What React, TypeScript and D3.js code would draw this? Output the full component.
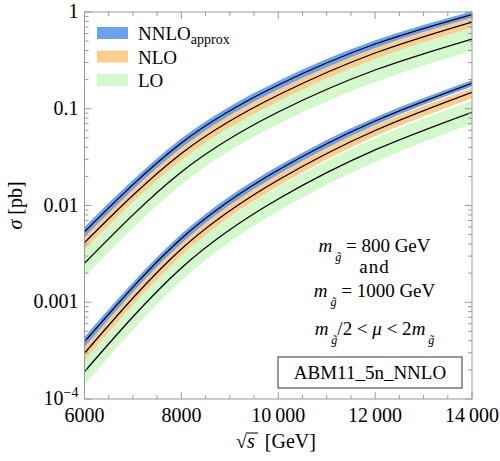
import React from 'react';
import * as d3 from 'd3';

// sqrt(s) sample points [GeV]
const sqrtS = [6000, 8000, 10000, 12000, 14000];

// central cross sections [pb], gluino mass 800 GeV
const nnlo800 = [0.00536, 0.0443, 0.176, 0.467, 0.942];
const nlo800 = [0.00413, 0.0345, 0.1387, 0.377, 0.788];
const lo800 = [0.00253, 0.0222, 0.0925, 0.2515, 0.526];

// central cross sections [pb], gluino mass 1000 GeV
const nnlo1000 = [0.000391, 0.00456, 0.0233, 0.0747, 0.1832];
const nlo1000 = [0.000297, 0.00355, 0.01834, 0.0596, 0.148];
const lo1000 = [0.0001915, 0.00226, 0.01167, 0.0375, 0.0919];

// relative scale uncertainty (m/2 < mu < 2m)
const nnloErr = [0.12, 0.11, 0.1, 0.09, 0.075];
const nloErrUp = [0.17, 0.15, 0.14, 0.13, 0.11];
const nloErrDown = [0.16, 0.15, 0.14, 0.13, 0.13];
const loErrUp = [0.36, 0.35, 0.33, 0.33, 0.31];
const loErrDown = [0.27, 0.26, 0.25, 0.25, 0.24];

const xTicks = [6000, 8000, 10000, 12000, 14000];
const xTickLabels = ['6000', '8000', '10\u2009000', '12\u2009000', '14\u2009000'];
const yTicks = [1e-4, 1e-3, 1e-2, 1e-1, 1];
const yTickLabels = ['', '0.001', '0.01', '0.1', '1'];

const legendItems = [
  { key: 'nnlo', label: 'NNLO', sub: 'approx', color: '#6aa1f2' },
  { key: 'nlo', label: 'NLO', sub: '', color: '#fdcd8e' },
  { key: 'lo', label: 'LO', sub: '', color: '#d3f8cb' },
];

const W = 500;
const H = 461;
const margin = { top: 12, right: 28, bottom: 62, left: 84.5 };
const FONT = '"Liberation Serif", "Times New Roman", "DejaVu Serif", serif';

const App = () => {
  const innerW = W - margin.left - margin.right;
  const innerH = H - margin.top - margin.bottom;

  const x = d3.scaleLinear().domain([6000, 14000]).range([0, innerW]);
  const y = d3.scaleLog().domain([1e-4, 1]).range([innerH, 0]);

  const line = d3
    .line<number>()
    .x((_, i) => x(sqrtS[i]))
    .y((d) => y(d))
    .curve(d3.curveNatural);

  const band = (c: number[], up: number[], down: number[]) =>
    d3
      .area<number>()
      .x((_, i) => x(sqrtS[i]))
      .y0((d, i) => y(d * (1 - down[i])))
      .y1((d, i) => y(d * (1 + up[i])))
      .curve(d3.curveNatural)(c) || '';

  const sets = [
    { nnlo: nnlo800, nlo: nlo800, lo: lo800 },
    { nnlo: nnlo1000, nlo: nlo1000, lo: lo1000 },
  ];

  const xMinor = d3.range(6000, 14001, 500).filter((v) => v % 2000 !== 0);
  const yMinor: number[] = [];
  [1e-4, 1e-3, 1e-2, 1e-1].forEach((dec) => {
    for (let k = 2; k <= 9; k++) yMinor.push(dec * k);
  });

  const frame = '#9a9a9a';
  const majorLen = 7;
  const minorLen = 4;

  const mSub = () => (
    <>
      <tspan fontStyle="italic">m</tspan>
      <tspan fontStyle="italic" fontSize={12} dy={9}>
        {' g\u0303'}
      </tspan>
    </>
  );

  return (
    <svg
      width={W}
      height={H}
      style={{ position: 'absolute', left: 0, top: 0, background: 'white', fontFamily: FONT }}
    >
      <defs>
        <clipPath id="plotClip">
          <rect x={0} y={0} width={innerW} height={innerH} />
        </clipPath>
      </defs>
      <g transform={`translate(${margin.left},${margin.top})`}>
        <g clipPath="url(#plotClip)">
          {sets.map((s, i) => (
            <g key={'b' + i}>
              <path d={band(s.lo, loErrUp, loErrDown)} fill={legendItems[2].color} />
              <path d={band(s.nlo, nloErrUp, nloErrDown)} fill={legendItems[1].color} />
              <path d={band(s.nnlo, nnloErr, nnloErr)} fill={legendItems[0].color} />
            </g>
          ))}
          {sets.map((s, i) => (
            <g key={'l' + i} fill="none" stroke="#000" strokeWidth={1.3}>
              <path d={line(s.nnlo) || ''} />
              <path d={line(s.nlo) || ''} />
              <path d={line(s.lo) || ''} />
            </g>
          ))}
        </g>

        {/* frame */}
        <rect x={0} y={0} width={innerW} height={innerH} fill="none" stroke={frame} strokeWidth={1} />

        {/* x ticks bottom and top */}
        {xTicks.map((t, i) => (
          <g key={'xt' + t}>
            <line x1={x(t)} x2={x(t)} y1={innerH} y2={innerH - majorLen} stroke={frame} />
            <line x1={x(t)} x2={x(t)} y1={0} y2={majorLen} stroke={frame} />
            <text x={x(t)} y={innerH + 23} textAnchor="middle" fontSize={20} fill="#000">
              {xTickLabels[i]}
            </text>
          </g>
        ))}
        {xMinor.map((t) => (
          <g key={'xm' + t}>
            <line x1={x(t)} x2={x(t)} y1={innerH} y2={innerH - minorLen} stroke={frame} />
            <line x1={x(t)} x2={x(t)} y1={0} y2={minorLen} stroke={frame} />
          </g>
        ))}

        {/* y ticks left and right */}
        {yTicks.map((t, i) => (
          <g key={'yt' + t}>
            <line x1={0} x2={majorLen} y1={y(t)} y2={y(t)} stroke={frame} />
            <line x1={innerW} x2={innerW - majorLen} y1={y(t)} y2={y(t)} stroke={frame} />
            {yTickLabels[i] && (
              <text x={-6} y={y(t) + 6} textAnchor="end" fontSize={20} fill="#000">
                {yTickLabels[i]}
              </text>
            )}
          </g>
        ))}
        <text x={-6} y={y(1e-4) + 6} textAnchor="end" fontSize={20} fill="#000">
          10<tspan fontSize={14} dy={-8}>−4</tspan>
        </text>
        {yMinor.map((t) => (
          <g key={'ym' + t}>
            <line x1={0} x2={minorLen} y1={y(t)} y2={y(t)} stroke={frame} />
            <line x1={innerW} x2={innerW - minorLen} y1={y(t)} y2={y(t)} stroke={frame} />
          </g>
        ))}

        {/* legend */}
        {legendItems.map((it, i) => (
          <g key={it.key} transform={`translate(12.5,${15 + i * 23.5})`}>
            <rect x={0} y={0} width={31} height={12} fill={it.color} />
            <text x={41} y={13} fontSize={19} fill="#000">
              {it.label}
              {it.sub && (
                <tspan fontSize={14} dy={4}>
                  {it.sub}
                </tspan>
              )}
            </text>
          </g>
        ))}

        {/* annotations */}
        <g fontSize={19} fill="#000" textAnchor="middle">
          <text x={290} y={240}>
            {mSub()}
            <tspan dy={-9}>{' = 800 GeV'}</tspan>
          </text>
          <text x={290} y={261} letterSpacing={1}>and</text>
          <text x={290} y={285}>
            {mSub()}
            <tspan dy={-9}>{' = 1000 GeV'}</tspan>
          </text>
          <text x={290} y={323}>
            {mSub()}
            <tspan dy={-9}>{'/2 < '}</tspan>
            <tspan fontStyle="italic">μ</tspan>
            <tspan>{' < 2'}</tspan>
            <tspan fontStyle="italic">m</tspan>
            <tspan fontStyle="italic" fontSize={12} dy={9}>
              {' g\u0303'}
            </tspan>
          </text>
          <rect x={193.5} y={345} width={184} height={31} fill="white" stroke="#333" strokeWidth={1} />
          <text x={285.5} y={367}>ABM11_5n_NNLO</text>
        </g>
      </g>

      {/* axis titles */}
      <text
        transform={`translate(22,${margin.top + innerH / 2}) rotate(-90)`}
        textAnchor="middle"
        fontSize={20}
        fill="#000"
      >
        <tspan fontStyle="italic">σ</tspan> [pb]
      </text>
      <g fontSize={20} fill="#000">
        <text x={236} y={448}>
          √<tspan fontStyle="italic">s</tspan>
          <tspan>{'\u00a0\u00a0[GeV]'}</tspan>
        </text>
        <line x1={247} x2={258} y1={433} y2={433} stroke="#000" strokeWidth={1} />
      </g>
    </svg>
  );
};

export default App;
